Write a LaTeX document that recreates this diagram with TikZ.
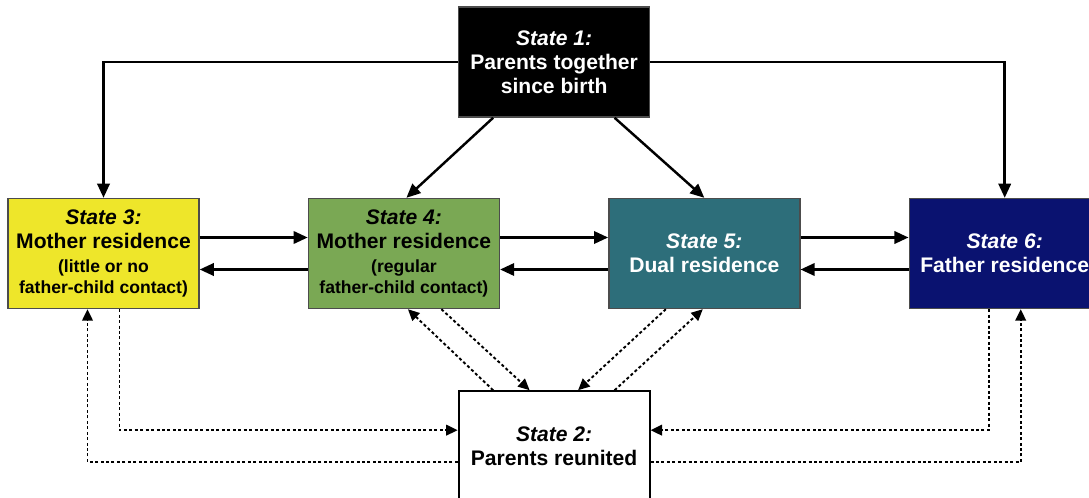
\documentclass[tikz,border=0pt]{standalone}
\usepackage{fontspec}
\setmainfont{Liberation Sans}
\usetikzlibrary{arrows.meta,positioning,calc}
\definecolor{motheryellow}{RGB}{238,230,42}
\definecolor{mothergreen}{RGB}{122,168,84}
\definecolor{dualteal}{RGB}{45,110,122}
\definecolor{fathernavy}{RGB}{10,18,112}
\newcommand{\stname}[1]{\textit{State #1:}}
\newcommand{\smalltxt}{\fontsize{10}{11}\selectfont}

\begin{document}
\begin{tikzpicture}[font=\fontsize{12}{13.8}\selectfont\bfseries,
      stbox/.style={draw=black!70, line width=0.8pt, minimum width=3.82cm,
                    minimum height=2.2cm, align=center, inner sep=2pt},
      arr/.style={-{Triangle[length=8pt,width=7pt]}, line width=1.4pt},
      dotarr/.style={-{Triangle[length=6.5pt,width=6pt]}, line width=1.1pt,
                     dash pattern=on 1.7pt off 1.4pt}
    ]
    \useasboundingbox (0,0) rectangle (21.78,-9.96);

    \node[stbox, fill=motheryellow] (s3) at (2.07,-5.07)
      {\stname{3}\\Mother residence\\
       \smalltxt(little or no\\[-2pt]\smalltxt father-child contact)};
    \node[stbox, fill=mothergreen, right=2.16cm of s3] (s4)
      {\stname{4}\\Mother residence\\
       \smalltxt(regular\\[-2pt]\smalltxt father-child contact)};
    \node[stbox, fill=dualteal, text=white, right=2.16cm of s4] (s5)
      {\stname{5}\\Dual residence};
    \node[stbox, fill=fathernavy, text=white, right=2.16cm of s5] (s6)
      {\stname{6}\\Father residence};

    \coordinate (top) at ($(s4.north)!0.5!(s5.north)$);
    \coordinate (bot) at ($(s4.south)!0.5!(s5.south)$);
    \node[stbox, fill=black, text=white, above=1.6cm of top] (s1)
      {\stname{1}\\Parents together\\since birth};
    \node[stbox, draw=black, line width=1.1pt, fill=white, below=1.62cm of bot] (s2)
      {\stname{2}\\Parents reunited};

    % from state 1
    \draw[arr] (s1.west) -| (s3.north);
    \draw[arr] (s1.east) -| (s6.north);
    \draw[arr] ([xshift=-1.22cm]s1.south) -- ([xshift=0.05cm]s4.north);
    \draw[arr] ([xshift=1.21cm]s1.south) -- (s5.north);

    % between residences
    \foreach \a/\b in {s3/s4, s4/s5, s5/s6} {
      \draw[arr] ([yshift=0.32cm]\a.east) -- ([yshift=0.32cm]\b.west);
      \draw[arr] ([yshift=-0.32cm]\b.west) -- ([yshift=-0.32cm]\a.east);
    }

    % to and from state 2
    \draw[dotarr] ([xshift=0.32cm]s3.south) |- ([yshift=0.32cm]s2.west);
    \draw[dotarr] ([yshift=-0.32cm]s2.west) -| ([xshift=-0.32cm]s3.south);
    \draw[dotarr] ([xshift=-0.32cm]s6.south) |- ([yshift=0.32cm]s2.east);
    \draw[dotarr] ([yshift=-0.32cm]s2.east) -| ([xshift=0.32cm]s6.south);
    \draw[dotarr] ([xshift=-1.22cm]s2.north) -- ([xshift=0.08cm]s4.south);
    \draw[dotarr] ([xshift=0.75cm]s4.south) -- ([xshift=-0.49cm]s2.north);
    \draw[dotarr] ([xshift=-0.77cm]s5.south) -- ([xshift=0.48cm]s2.north);
    \draw[dotarr] ([xshift=1.21cm]s2.north) -- ([xshift=-0.03cm]s5.south);
  \end{tikzpicture}
\end{document}
